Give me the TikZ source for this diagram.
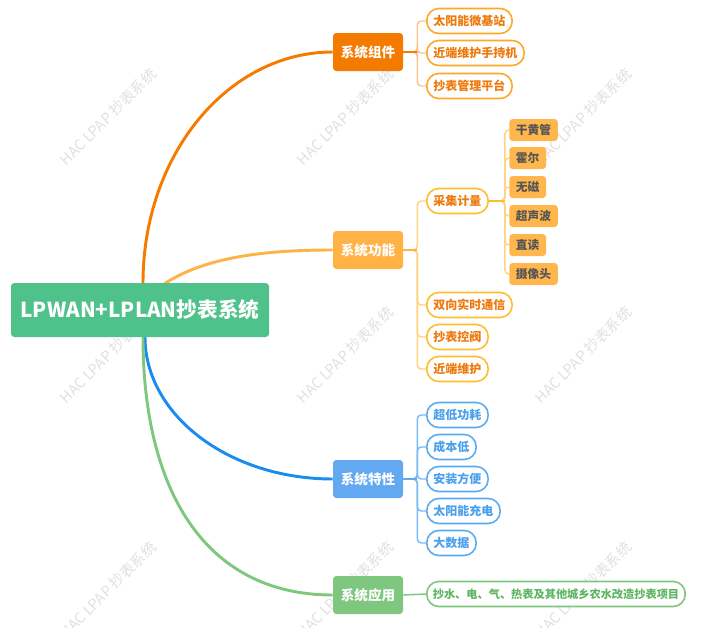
\documentclass[tikz,border=0pt]{standalone}
\usepackage{fontspec}
\setmainfont{Noto Sans CJK SC}
\usetikzlibrary{backgrounds}
\definecolor{rootg}{HTML}{4FC18A}
\definecolor{oDark}{HTML}{F47B00}
\definecolor{oBr}{HTML}{FCC590}
\definecolor{oBd}{HTML}{FFA726}
\definecolor{oTx}{HTML}{EE7A0E}
\definecolor{yMain}{HTML}{FFB347}
\definecolor{yBr}{HTML}{FFD37F}
\definecolor{yBd}{HTML}{FFBC2B}
\definecolor{yFill}{HTML}{FFB64D}
\definecolor{gTx}{HTML}{555555}
\definecolor{bMain}{HTML}{62A9F2}
\definecolor{bCurve}{HTML}{1A8CF0}
\definecolor{bBr}{HTML}{78BBF5}
\definecolor{bBd}{HTML}{5AACF2}
\definecolor{bTx}{HTML}{4BA0EE}
\definecolor{gMain}{HTML}{7FC77F}
\definecolor{gTx2}{HTML}{5FB662}
\definecolor{wmc}{HTML}{E0E0E0}
\tikzset{
  wm/.style={text=wmc,rotate=45,font=\fontsize{11}{13}\selectfont,inner sep=0pt},
  rootbox/.style={fill=rootg,rounded corners=2.5pt,text=white,minimum width=193.5pt,minimum height=40.5pt,inner sep=0pt,font=\bfseries\fontsize{15.5}{18}\selectfont},
  mainbox/.style={fill=#1,rounded corners=2.5pt,text=white,minimum width=52.5pt,minimum height=28.5pt,inner sep=0pt,font=\bfseries\fontsize{10.2}{12}\selectfont},
  pill/.style 2 args={draw=#1,text=#2,fill=white,line width=1.2pt,rounded corners=9pt,minimum height=18.75pt,inner xsep=5pt,inner ysep=0pt,anchor=west,font=\bfseries\fontsize{9}{11}\selectfont},
  leaf/.style={fill=yFill,text=gTx,rounded corners=2.5pt,minimum height=16.5pt,inner xsep=5pt,inner ysep=0pt,anchor=west,font=\bfseries\fontsize{8.8}{10}\selectfont},
  curve/.style={draw=#1,line width=2.2pt},
  brk/.style={draw=#1,line width=1.1pt,rounded corners=3pt},
}
\begin{document}
\begin{tikzpicture}[x=0.75pt,y=-0.75pt]
\useasboundingbox (0,0) rectangle (701,628);

% main nodes
\node[rootbox] (root) at (140,310) {LPWAN+LPLAN抄表系统};
\node[mainbox=oDark] (g1) at (368,52) {系统组件};
\node[mainbox=yMain] (g2) at (368,250) {系统功能};
\node[mainbox=bMain] (g3) at (368,479) {系统特性};
\node[mainbox=gMain] (g4) at (368,595) {系统应用};

% group 1 children
\node[pill={oBd}{oTx}] (a1) at (426,21) {太阳能微基站};
\node[pill={oBd}{oTx}] (a2) at (426,53) {近端维护手持机};
\node[pill={oBd}{oTx}] (a3) at (426,86) {抄表管理平台};

% group 2 children
\node[pill={yBd}{oTx}] (b1) at (426,201) {采集计量};
\node[pill={yBd}{oTx}] (b2) at (426,305) {双向实时通信};
\node[pill={yBd}{oTx}] (b3) at (426,337) {抄表控阀};
\node[pill={yBd}{oTx}] (b4) at (426,369) {近端维护};

\node[leaf] (s1) at (509,130) {干黄管};
\node[leaf] (s2) at (509,158) {霍尔};
\node[leaf] (s3) at (509,187) {无磁};
\node[leaf] (s4) at (509,216) {超声波};
\node[leaf] (s5) at (509,245) {直读};
\node[leaf] (s6) at (509,274) {摄像头};

% group 3 children
\node[pill={bBd}{bTx}] (c1) at (426,415) {超低功耗};
\node[pill={bBd}{bTx}] (c2) at (426,447) {成本低};
\node[pill={bBd}{bTx}] (c3) at (426,479) {安装方便};
\node[pill={bBd}{bTx}] (c4) at (426,511) {太阳能充电};
\node[pill={bBd}{bTx}] (c5) at (426,543) {大数据};

% group 4 child
\node[pill={gMain}{gTx2},font=\bfseries\fontsize{8.4}{10}\selectfont,inner xsep=4.5pt] (d1) at (426,594) {抄水、电、气、热表及其他城乡农水改造抄表项目};

\begin{scope}[on background layer]
  % watermark
  \foreach \wx in {108,345,583}{
    \foreach \wy in {117,355,590}{
      \node[wm] (wm\wx\wy) at (\wx,\wy) {HAC LPAP 抄表系统};
    }
  }
  % main curves
  \draw[curve=oDark] (root.center) ++(3,0) -- ++(0,-27) .. controls +(0,-128) and +(-105,0) .. (g1.west);
  \draw[curve=yMain] (root.center) ++(5,-10) .. controls +(40,-42) and +(-73,0) .. (g2.west);
  \draw[curve=bCurve] (root.center) ++(5,0) -- ++(0,27) .. controls +(0,78) and +(-104,0) .. (g3.west);
  \draw[curve=gMain] (root.center) ++(3,0) -- ++(0,27) .. controls +(0,150) and +(-130,0) .. (g4.west);

  % brackets group 1
  \foreach \c in {a1,a2,a3}{\draw[brk=oBr] (g1.east) -- ++(14,0) |- (\c.west);}
  \draw[line width=1.1pt,draw=oDark] (g1.east) -- ++(14,0);
  % brackets group 2
  \foreach \c in {b1,b2,b3,b4}{\draw[brk=yBr] (g2.east) -- ++(14,0) |- (\c.west);}
  \draw[line width=1.1pt,draw=yMain] (g2.east) -- ++(14,0);
  \foreach \c in {s1,s2,s3,s4,s5,s6}{\draw[brk=yBr] (b1.east) -- ++(16,0) |- (\c.west);}
  \draw[line width=1.1pt,draw=yBd] (b1.east) -- ++(16,0);
  % brackets group 3
  \foreach \c in {c1,c2,c3,c4,c5}{\draw[brk=bBr] (g3.east) -- ++(14,0) |- (\c.west);}
  \draw[line width=1.1pt,draw=bMain] (g3.east) -- ++(14,0);
  % group 4
  \draw[line width=1.1pt,draw=gMain] (g4.east) -- (d1.west);
\end{scope}
\end{tikzpicture}
\end{document}
